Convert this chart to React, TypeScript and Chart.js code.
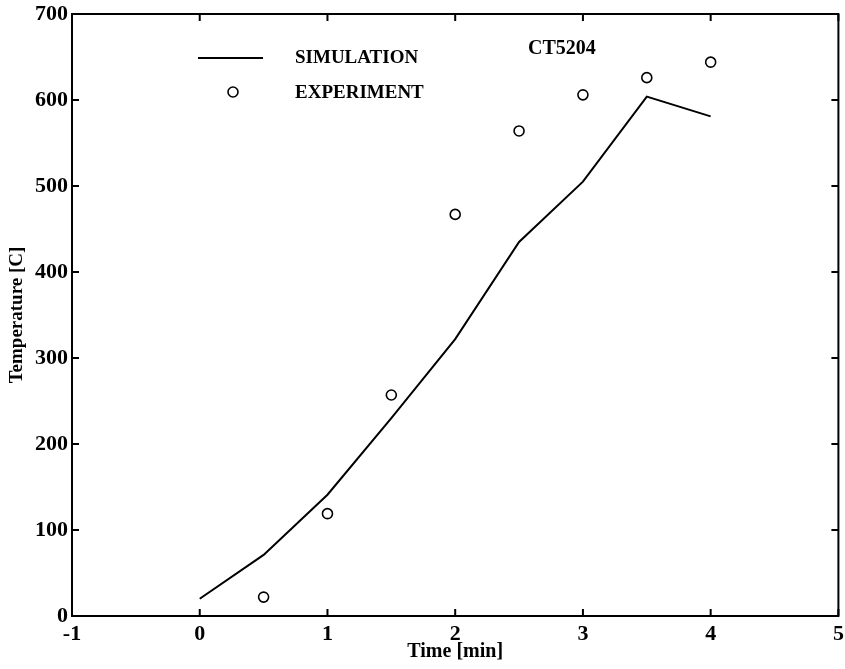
import React, { useEffect, useRef } from "react";
import { Chart, registerables } from "chart.js";

Chart.register(...registerables);

const simTime = [0, 0.5, 1, 1.5, 2, 2.5, 3, 3.5, 4];
const simTemp = [20, 71, 141, 230, 322, 435, 505, 604, 581];
const expTime = [0.5, 1, 1.5, 2, 2.5, 3, 3.5, 4];
const expTemp = [22, 119, 257, 467, 564, 606, 626, 644];
const xTicks = [-1, 0, 1, 2, 3, 4, 5];
const yTicks = [0, 100, 200, 300, 400, 500, 600, 700];
const seriesLabels = ["SIMULATION", "EXPERIMENT"];
const caseLabel = "CT5204";

const SERIF = "'Liberation Serif', 'Times New Roman', serif";

const framePlugin = {
  id: "frame",
  afterDraw(chart: any) {
    const { ctx, chartArea } = chart;
    const { left, right, top, bottom } = chartArea;
    const xs = chart.scales.x;
    const ys = chart.scales.y;
    ctx.save();
    ctx.strokeStyle = "#000";
    ctx.lineWidth = 2;
    ctx.strokeRect(left, top, right - left, bottom - top);
    const tl = 7;
    ctx.beginPath();
    xTicks.forEach((v) => {
      const px = xs.getPixelForValue(v);
      ctx.moveTo(px, bottom);
      ctx.lineTo(px, bottom - tl);
      ctx.moveTo(px, top);
      ctx.lineTo(px, top + tl);
    });
    yTicks.forEach((v) => {
      const py = ys.getPixelForValue(v);
      ctx.moveTo(left, py);
      ctx.lineTo(left + tl, py);
      ctx.moveTo(right, py);
      ctx.lineTo(right - tl, py);
    });
    ctx.stroke();

    // legend
    ctx.lineWidth = 2;
    ctx.beginPath();
    ctx.moveTo(198, 58);
    ctx.lineTo(263, 58);
    ctx.stroke();
    ctx.lineWidth = 1.6;
    ctx.beginPath();
    ctx.arc(233, 92, 5, 0, Math.PI * 2);
    ctx.stroke();
    ctx.fillStyle = "#000";
    ctx.font = `bold 19px ${SERIF}`;
    ctx.textBaseline = "middle";
    ctx.textAlign = "left";
    ctx.fillText(seriesLabels[0], 295, 58);
    ctx.fillText(seriesLabels[1], 295, 93);
    ctx.font = `bold 20px ${SERIF}`;
    ctx.fillText(caseLabel, 528, 49);
    ctx.restore();
  },
};

export default function App() {
  const ref = useRef<HTMLCanvasElement | null>(null);
  useEffect(() => {
    if (!ref.current) return;
    const chart = new Chart(ref.current, {
      type: "scatter",
      data: {
        datasets: [
          {
            label: seriesLabels[0],
            data: simTime.map((t, i) => ({ x: t, y: simTemp[i] })),
            showLine: true,
            borderColor: "#000",
            borderWidth: 2,
            pointRadius: 0,
            fill: false,
          },
          {
            label: seriesLabels[1],
            data: expTime.map((t, i) => ({ x: t, y: expTemp[i] })),
            showLine: false,
            pointStyle: "circle",
            pointRadius: 5,
            pointBorderWidth: 1.6,
            pointBorderColor: "#000",
            pointBackgroundColor: "rgba(255,255,255,0)",
          },
        ],
      },
      options: {
        responsive: false,
        animation: false,
        layout: { padding: { left: 0, top: 14, right: 6, bottom: 0 } },
        plugins: {
          legend: { display: false },
          tooltip: { enabled: false },
        },
        scales: {
          x: {
            type: "linear",
            min: -1,
            max: 5,
            afterBuildTicks: (s: any) => {
              s.ticks = xTicks.map((v) => ({ value: v }));
            },
            afterFit: (s: any) => {
              s.height = 53;
              s.paddingLeft = 0;
              s.paddingRight = 0;
            },
            ticks: {
              color: "#000",
              font: { family: SERIF, size: 22, weight: "bold" },
              padding: 5,
              maxRotation: 0,
              autoSkip: false,
            },
            grid: { display: false, drawTicks: false },
            border: { display: false },
            title: {
              display: true,
              text: "Time [min]",
              color: "#000",
              font: { family: SERIF, size: 20, weight: "bold" },
              padding: { top: 0, bottom: 5 },
            },
          },
          y: {
            type: "linear",
            min: 0,
            max: 700,
            afterBuildTicks: (s: any) => {
              s.ticks = yTicks.map((v) => ({ value: v }));
            },
            afterFit: (s: any) => {
              s.width = 72;
              s.paddingTop = 0;
              s.paddingBottom = 0;
            },
            ticks: {
              color: "#000",
              font: { family: SERIF, size: 22, weight: "bold" },
              padding: 4,
              autoSkip: false,
            },
            grid: { display: false, drawTicks: false },
            border: { display: false },
            title: {
              display: true,
              text: "Temperature [C]",
              color: "#000",
              font: { family: SERIF, size: 19, weight: "bold" },
              padding: { top: 6, bottom: 0 },
            },
          },
        },
      },
      plugins: [framePlugin],
    } as any);
    return () => chart.destroy();
  }, []);
  return (
    <div style={{ position: "absolute", left: 0, top: 0, width: 845, height: 669, background: "#fff" }}>
      <canvas ref={ref} width={845} height={669} style={{ display: "block" }} />
    </div>
  );
}
